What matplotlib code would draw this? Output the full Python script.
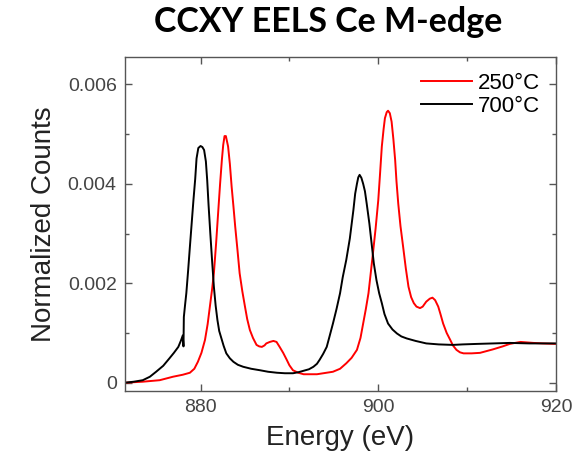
import numpy as np
import matplotlib
matplotlib.use("Agg")
import matplotlib.pyplot as plt
from matplotlib.ticker import MultipleLocator, FuncFormatter

# energy (eV) and normalized counts
energy_700 = [871.5, 872.5, 873.5, 874.3, 875.0, 875.8, 876.5, 877.0, 877.5, 877.8,
              878.0, 878.08, 878.12, 878.25, 878.4, 878.6, 878.8, 879.0, 879.2, 879.4,
              879.55, 879.75, 880.0, 880.2, 880.4, 880.6, 880.75, 880.9, 881.1, 881.3,
              881.5, 881.7, 881.9, 882.1, 882.4, 882.6, 882.9, 883.3, 883.7, 884.2,
              884.8, 885.7, 886.7, 887.6, 888.6, 889.5, 890.4, 891.0, 891.6, 892.2,
              892.7, 893.1, 893.4, 893.8, 894.2, 894.5, 894.9, 895.3, 895.7, 896.0,
              896.4, 896.8, 897.2, 897.4, 897.6, 897.75, 897.9, 898.1, 898.3, 898.5,
              898.7, 899.0, 899.25, 899.5, 899.8, 900.1, 900.4, 900.7, 901.1, 901.6,
              902.1, 902.6, 903.2, 904.2, 905.4, 906.8, 908.4, 909.5, 911.1, 913.0,
              914.8, 917.0, 920.0]
counts_700 = [0.0, 0.00002, 0.00005, 0.00012, 0.00022, 0.00034, 0.00049, 0.0006, 0.00072, 0.00085,
              0.00095, 0.00073, 0.00132, 0.00155, 0.0018, 0.00225, 0.00273, 0.0032, 0.00367, 0.0041,
              0.00451, 0.00472, 0.00476, 0.00474, 0.00468, 0.00445, 0.00407, 0.00358, 0.0030, 0.00245,
              0.00193, 0.00155, 0.00126, 0.00104, 0.00086, 0.00074, 0.00059, 0.00049, 0.00042, 0.00036,
              0.00032, 0.00028, 0.00025, 0.00022, 0.00020, 0.00019, 0.00019, 0.00021, 0.00024, 0.00027,
              0.00032, 0.00038, 0.00046, 0.00058, 0.00072, 0.00092, 0.00119, 0.00148, 0.0018, 0.00212,
              0.00247, 0.0029, 0.00347, 0.0038, 0.0040, 0.00413, 0.00418, 0.00412, 0.0040, 0.00385,
              0.0036, 0.0032, 0.0028, 0.0024, 0.00206, 0.0018, 0.0016, 0.00138, 0.00119, 0.00107,
              0.00099, 0.00093, 0.00089, 0.00084, 0.00079, 0.00077, 0.00076, 0.00077, 0.00078, 0.00079,
              0.0008, 0.00079, 0.00079]

energy_250 = [871.5, 873.5, 875.4, 876.9, 878.0, 878.8, 879.3, 879.7, 880.1, 880.5,
              880.8, 881.05, 881.3, 881.5, 881.75, 882.0, 882.2, 882.4, 882.55, 882.7,
              882.85, 883.1, 883.3, 883.5, 883.7, 883.9, 884.15, 884.4, 884.7, 885.0,
              885.25, 885.55, 885.9, 886.3, 886.6, 886.9, 887.2, 887.4, 887.8, 888.2,
              888.55, 888.9, 889.3, 889.7, 890.0, 890.4, 891.0, 891.6, 893.1, 894.9,
              895.7, 896.4, 897.0, 897.6, 898.0, 898.3, 898.6, 898.9, 899.15, 899.4,
              899.7, 900.0, 900.2, 900.4, 900.6, 900.75, 900.95, 901.1, 901.3, 901.5,
              901.7, 901.9, 902.05, 902.25, 902.5, 902.8, 903.1, 903.4, 903.7, 904.0,
              904.3, 904.7, 905.0, 905.4, 905.8, 906.1, 906.4, 906.75, 907.0, 907.3,
              907.7, 908.1, 908.4, 908.8, 909.2, 909.6, 910.5, 911.45, 912.9, 914.0,
              914.8, 916.0, 917.45, 918.5, 920.0]
counts_250 = [0.0, 0.00002, 0.00005, 0.00012, 0.00016, 0.0002, 0.00028, 0.00042, 0.0006, 0.00086,
              0.00118, 0.00153, 0.00188, 0.0022, 0.0028, 0.00347, 0.004, 0.00448, 0.00478, 0.00496,
              0.00496, 0.00475, 0.0044, 0.00394, 0.00355, 0.00314, 0.00268, 0.0022, 0.00184, 0.00153,
              0.00128, 0.00106, 0.0009, 0.00076, 0.00073, 0.00072, 0.00075, 0.00079, 0.00082, 0.00084,
              0.00082, 0.00072, 0.0006, 0.00046, 0.00035, 0.00025, 0.0002, 0.00017, 0.00017, 0.00022,
              0.00028, 0.00039, 0.0005, 0.00066, 0.0009, 0.00119, 0.00148, 0.0018, 0.0022, 0.0026,
              0.0031, 0.00367, 0.0042, 0.00475, 0.0051, 0.00532, 0.00544, 0.00547, 0.00542, 0.00525,
              0.0049, 0.00448, 0.00405, 0.0036, 0.00315, 0.00273, 0.0023, 0.00193, 0.00172, 0.0016,
              0.00153, 0.0015, 0.00153, 0.00163, 0.00169, 0.00171, 0.00166, 0.00153, 0.00138, 0.00119,
              0.001, 0.00086, 0.00075, 0.00066, 0.00061, 0.00059, 0.00059, 0.0006, 0.00067, 0.00073,
              0.00078, 0.00082, 0.0008, 0.00079, 0.00078]

labels = ["250\u00b0C", "700\u00b0C"]

plt.rcParams["font.family"] = ["Liberation Sans", "DejaVu Sans"]

fig = plt.figure(figsize=(5.82, 4.58), dpi=100)
ax = fig.add_axes([0.2148, 0.1463, 0.7405, 0.7292])

ax.plot(energy_250, counts_250, color="#ff0000", lw=1.4, label=labels[0])
ax.plot(energy_700, counts_700, color="black", lw=1.4, label=labels[1])

ax.set_xlim(871.5, 920)
ax.set_ylim(-0.000167, 0.00655)

ax.xaxis.set_major_locator(MultipleLocator(20))
ax.xaxis.set_minor_locator(MultipleLocator(10))
ax.yaxis.set_major_locator(MultipleLocator(0.002))
ax.yaxis.set_minor_locator(MultipleLocator(0.001))
ax.yaxis.set_major_formatter(FuncFormatter(lambda v, p: "0" if abs(v) < 1e-9 else f"{v:.3f}"))

ax.tick_params(which="both", direction="in", top=True, right=True,
               color="#555555", labelcolor="#444444", labelsize=14)
ax.tick_params(which="major", length=5, width=1, pad=6)
ax.tick_params(which="minor", length=3, width=1)
for s in ax.spines.values():
    s.set_color("#555555")
    s.set_linewidth(1.0)

ax.set_xlabel("Energy (eV)", fontsize=20, color="#222222", labelpad=6)
ax.set_ylabel("Normalized Counts", fontsize=20, color="#222222", labelpad=8)

ax.legend(loc="upper right", bbox_to_anchor=(1.0, 1.0), frameon=False, fontsize=16,
          handlelength=2.3, handletextpad=0.3, labelspacing=0.1, borderaxespad=0.3)

fig.text(0.564, 0.952, "CCXY EELS Ce M-edge", ha="center", va="center",
         fontsize=24.5, fontweight="bold", family=["Lato", "DejaVu Sans"])

fig.savefig("out.png", dpi=100)
